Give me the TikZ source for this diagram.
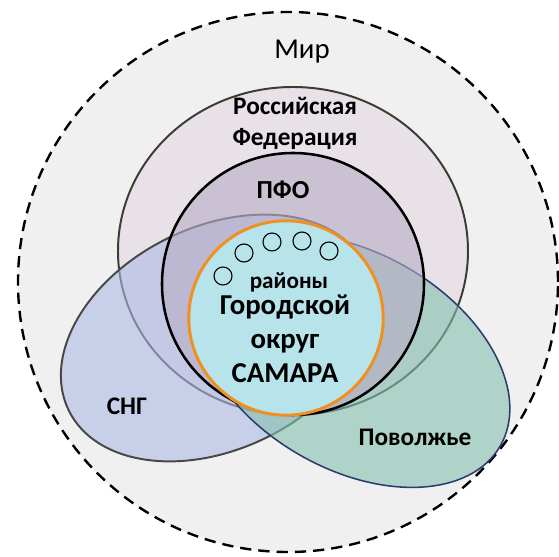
\documentclass[tikz,border=0pt]{standalone}
\usepackage{fontspec}
\setmainfont{Carlito}
\definecolor{mirFill}{HTML}{F0F0F0}
\definecolor{rfFill}{HTML}{E3D7E4}
\definecolor{rfLine}{HTML}{3C3C32}
\definecolor{sngFill}{HTML}{AEBAE4}
\definecolor{sngLine}{HTML}{484848}
\definecolor{volFill}{HTML}{84C0AE}
\definecolor{volLine}{HTML}{2C3C6E}
\definecolor{pfoFill}{HTML}{B6ADC6}
\definecolor{samFill}{HTML}{B7E3EB}
\definecolor{samLine}{HTML}{F0901E}
\begin{document}
\begin{tikzpicture}[
    zone/.style={fill opacity=0.6, line width=1.4pt},
    lbl/.style={font=\bfseries\fontsize{18}{22}\selectfont, align=center, inner sep=0pt},
    rayon/.style={draw=black, line width=0.8pt}
  ]
            \useasboundingbox (-7.2, -6.875) rectangle (6.775, 7.05);
            \fill[white] (-7.2, -6.875) rectangle (6.775, 7.05);

            % Mir
            \draw[fill=mirFill, dash pattern=on 8pt off 5pt, line width=1.7pt] (0, 0) circle (6.75);

            % Russland, SNG, Wolga, PFO
            \draw[zone, fill=rfFill, draw=rfLine] (0.125, 0.775) ellipse (4.375 and 4.1);
            \draw[zone, fill=sngFill, draw=sngLine, rotate around={26:(-1.775, -1.4)}] (-1.775, -1.4) ellipse (4.125 and 2.78);
            \draw[zone, fill=volFill, draw=volLine, line width=1.1pt, rotate around={-30:(1.625, -1.975)}] (1.625, -1.975) ellipse (4.25 and 2.7);
            \draw[zone, fill=pfoFill, draw=black, line width=1.8pt] (0.125, -0.05) circle (3.275);
            \draw[fill=samFill, draw=samLine, line width=2.1pt] (-0.05, -0.9) circle (2.43);

            % Rayons
            \foreach \x/\y in {-1.625/0.15, -1.1/0.725, -0.4/1.0, 0.35/1.025, 1.025/0.775}
                \draw[rayon] (\x, \y) circle (0.225);

            % Beschriftungen
            \node[font=\fontsize{20.5}{24}\selectfont, inner sep=0pt] (mir) at (0.35, 5.75) {Мир};
            \node[lbl] (rf) at (0.175, 3.96) {Российская\\Федерация};
            \node[lbl, font=\bfseries\fontsize{18.5}{22}\selectfont] (pfo) at (-0.125, 2.3) {ПФО};
            \node[lbl, font=\bfseries\fontsize{16.5}{20}\selectfont] (rayony) at (0.025, 0.0) {районы};
            \node[lbl, font=\bfseries\fontsize{20.5}{24.5}\selectfont] (samara) at (-0.075, -1.42) {Городской\\округ\\САМАРА};
            \node[lbl] (sng) at (-4.025, -3.1) {СНГ};
            \node[lbl] (volga) at (3.175, -3.875) {Поволжье};
        \end{tikzpicture}
\end{document}
